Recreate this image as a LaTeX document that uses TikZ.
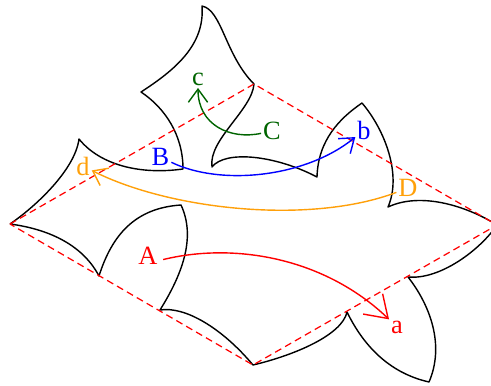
\documentclass[tikz,border=0pt]{standalone}
\usepackage{xcolor}
\usepackage{fontspec}
\setmainfont{Liberation Serif}
\usepackage{tikz}
\usetikzlibrary{arrows.meta}
\definecolor{lightorange}{RGB}{255,160,10}
\definecolor{darkgreen}{RGB}{0,100,0}
\begin{document}
\begin{tikzpicture}[every node/.style={font=\fontsize{15}{18}\selectfont,inner sep=1pt},
  boundary/.style={line width=0.8pt,line join=round},
  gluing/.style={red,dashed,dash pattern=on 4pt off 2.5pt,line width=0.7pt},
  pairing/.style={line width=0.8pt,-{Straight Barb[length=7.5pt,width=11pt]}}]
  \useasboundingbox (0,0) rectangle (9.82,7.70);
  \clip (0,0) rectangle (9.82,7.70);
  \coordinate (W) at (0.20,3.22);
  \coordinate (N) at (5.08,6.02);
  \coordinate (E) at (9.94,3.20);
  \coordinate (S) at (5.06,0.40);
  \coordinate (c1) at (1.58,4.92);
  \coordinate (c2) at (3.66,4.32);
  \coordinate (c3) at (2.82,5.86);
  \coordinate (c4) at (4.04,7.58);
  \coordinate (c5) at (4.24,4.36);
  \coordinate (c6) at (6.34,4.16);
  \coordinate (c7) at (7.24,5.64);
  \coordinate (c8) at (7.76,3.56);
  \coordinate (c9) at (8.16,2.16);
  \coordinate (c10) at (8.58,0.06);
  \coordinate (c11) at (6.94,1.46);
  \coordinate (c12) at (3.20,1.50);
  \coordinate (c13) at (3.62,3.60);
  \coordinate (c14) at (1.98,2.18);
  \draw[boundary] (W) .. controls (0.70,3.56) and (1.50,4.30) .. (c1)
    .. controls (2.00,4.40) and (2.80,4.20) .. (c2)
    .. controls (3.66,5.00) and (3.30,5.54) .. (c3)
    .. controls (3.50,6.30) and (4.10,6.80) .. (c4)
    .. controls (4.44,7.50) and (4.50,6.60) .. (N)
    .. controls (5.04,5.50) and (4.16,4.90) .. (c5)
    .. controls (4.50,4.70) and (5.50,4.60) .. (c6)
    .. controls (6.36,4.90) and (6.80,5.34) .. (c7)
    .. controls (7.70,5.10) and (8.04,4.20) .. (c8)
    .. controls (8.40,3.86) and (9.30,3.60) .. (E)
    .. controls (9.60,2.70) and (8.80,2.10) .. (c9)
    .. controls (8.60,1.60) and (8.90,0.80) .. (c10)
    .. controls (7.96,0.20) and (7.36,0.60) .. (c11)
    .. controls (6.84,1.00) and (5.90,0.60) .. (S)
    .. controls (4.44,1.14) and (3.70,1.58) .. (c12)
    .. controls (3.70,2.30) and (3.90,3.00) .. (c13)
    .. controls (2.70,3.54) and (2.24,3.00) .. (c14)
    .. controls (1.60,2.90) and (0.80,3.14) .. (W);
  \draw[gluing] (W) -- (N) -- (E) -- (S) -- cycle;
  \node[red,inner sep=3pt] (A) at (2.96,2.59) {A};
  \node[red] (a) at (7.94,1.16) {a};
  \node[blue] (B) at (3.21,4.56) {B};
  \node[blue] (b) at (7.28,5.10) {b};
  \node[darkgreen] (C) at (5.44,5.08) {C};
  \node[darkgreen] (c) at (3.96,6.11) {c};
  \node[lightorange] (D) at (8.16,3.94) {D};
  \node[lightorange] (d) at (1.66,4.38) {d};
  \draw[pairing,red,-{Straight Barb[length=12pt,width=16pt]}] (A.-15) .. controls (4.70,2.86) and (6.50,2.54) .. (a);
  \draw[pairing,blue] (B) .. controls (4.40,3.98) and (6.10,4.14) .. (b);
  \draw[pairing,darkgreen] (C) .. controls (4.60,4.90) and (3.96,5.20) .. (c.south);
  \draw[pairing,lightorange] (D) .. controls (6.20,3.20) and (3.40,3.50) .. (d);
\end{tikzpicture}
\end{document}
